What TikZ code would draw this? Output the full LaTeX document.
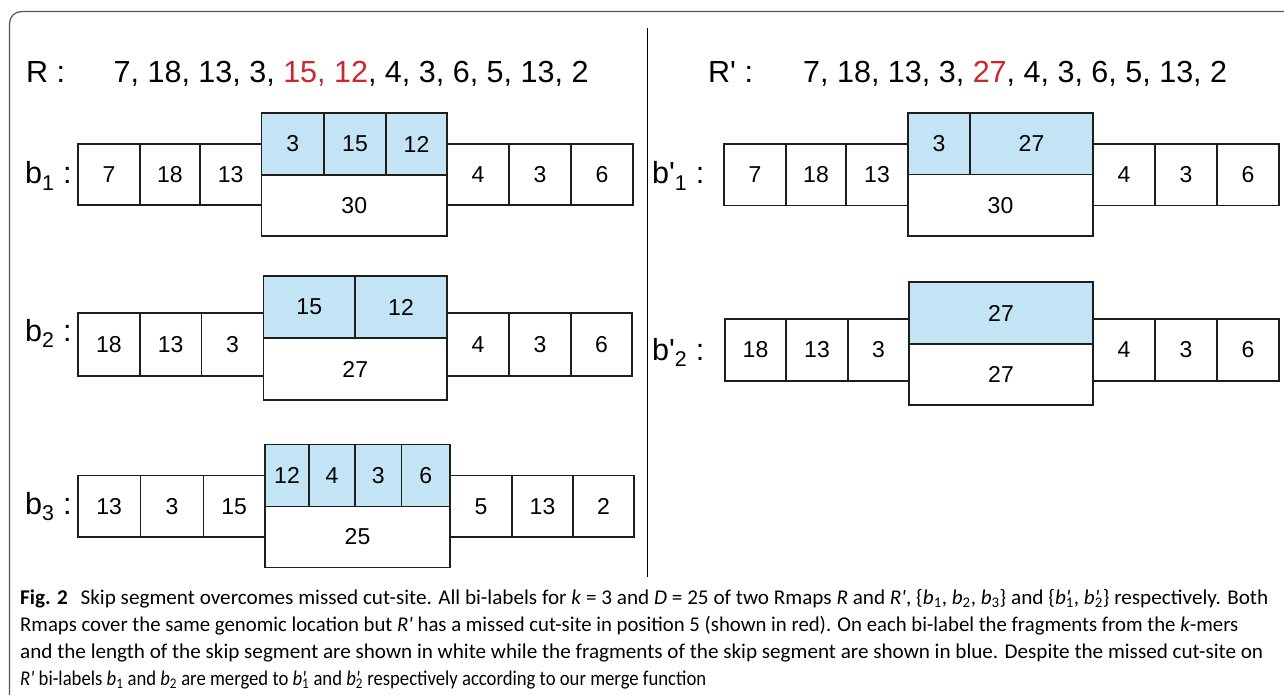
\documentclass[tikz,border=0pt]{standalone}
\usepackage{fontspec}
\usepackage{graphicx}
\setmainfont{Liberation Sans}
\newfontfamily\capfont{Carlito}
\definecolor{skyfill}{RGB}{194,228,245}
\definecolor{redc}{RGB}{205,38,48}
\definecolor{framecol}{RGB}{85,85,85}
\definecolor{linecol}{RGB}{30,30,30}
\newcommand{\bx}[7]{\node[#6, minimum width={(#4-#2)*1pt}, minimum height={(#5-#3)*1pt}] (#1) at ({(#2+#4)/2},{(#3+#5)/2}) {#7};}
\newcommand{\bi}[1]{\textit{b}\textsubscript{#1}}
\newcommand{\bpi}[1]{\textit{b}\rlap{\textit{\textquotesingle}}\textsubscript{#1}}
\newcommand{\rpr}{\textit{R\textquotesingle}}
\tikzset{
 cellw/.style={draw=linecol, fill=white, line width=1.3pt, inner sep=0pt, font=\fontsize{23}{27}\selectfont},
 cellb/.style={cellw, fill=skyfill},
 titletext/.style={anchor=base west, inner sep=0pt, font=\fontsize{30.5}{36}\selectfont},
 rowlabel/.style={anchor=base west, inner sep=0pt, font=\fontsize{30.5}{36}\selectfont},
 capline/.style={anchor=base west, inner sep=0pt, font=\capfont\fontsize{21}{25}\selectfont},
}
\begin{document}
\begin{tikzpicture}[x=1pt,y=-1pt]
\useasboundingbox (0,0) rectangle (1284,695);
\clip (0,0) rectangle (1284,695);
\fill[white] (0,0) rectangle (1284,695);
% frame
\coordinate (fbl) at (9.5,720);
\coordinate (ftl) at (9.5,11.5);
\coordinate (ftr) at (1310,11.5);
\draw[framecol, line width=1.2pt, rounded corners=12pt] (fbl) -- (ftl) -- (ftr);
% divider
\coordinate (dtop) at (647.5,28);
\coordinate (dbot) at (647.5,577);
\draw[black, line width=1.5pt] (dtop) -- (dbot);
% titles
\node[titletext] (tR) at (26,82.7) {R :};
\node[titletext] (sR) at (113.5,82.7) {7, 18, 13, 3, \textcolor{redc}{15, 12}, 4, 3, 6, 5, 13, 2};
\node[titletext] (tRp) at (708,82.7) {R\textquotesingle\ :};
\node[titletext] (sRp) at (803,82.7) {7, 18, 13, 3, \textcolor{redc}{27}, 4, 3, 6, 5, 13, 2};
% row labels
\node[rowlabel] (lb1) at (25,184) {b\textsubscript{1} :};
\node[rowlabel] (lb2) at (25,341) {b\textsubscript{2} :};
\node[rowlabel] (lb3) at (25,514) {b\textsubscript{3} :};
\node[rowlabel] (lbp1) at (652,184) {b\textquotesingle\textsubscript{1} :};
\node[rowlabel] (lbp2) at (652,360) {b\textquotesingle\textsubscript{2} :};
% b1
\bx{b1c1}{78}{144}{140}{205}{cellw}{7}
\bx{b1c2}{140}{144}{200}{205}{cellw}{18}
\bx{b1c3}{200}{144}{261.5}{205}{cellw}{13}
\bx{b1s1}{261.5}{113}{324}{175}{cellb}{3}
\bx{b1s2}{324}{113}{386}{175}{cellb}{15}
\bx{b1s3}{386}{113}{447}{175}{cellb}{12}
\bx{b1len}{261.5}{175}{447}{236}{cellw}{30}
\bx{b1c4}{447}{144}{509}{205}{cellw}{4}
\bx{b1c5}{509}{144}{571}{205}{cellw}{3}
\bx{b1c6}{571}{144}{633}{205}{cellw}{6}
% b2
\bx{b2c1}{78}{313}{140}{376}{cellw}{18}
\bx{b2c2}{140}{313}{201.5}{376}{cellw}{13}
\bx{b2c3}{201.5}{313}{263.5}{376}{cellw}{3}
\bx{b2s1}{263.5}{276}{355}{338}{cellb}{15}
\bx{b2s2}{355}{276}{447}{338}{cellb}{12}
\bx{b2len}{263.5}{338}{447}{400}{cellw}{27}
\bx{b2c4}{447}{313}{509}{376}{cellw}{4}
\bx{b2c5}{509}{313}{571}{376}{cellw}{3}
\bx{b2c6}{571}{313}{632}{376}{cellw}{6}
% b3
\bx{b3c1}{78}{475.5}{140.5}{537}{cellw}{13}
\bx{b3c2}{140.5}{475.5}{203.5}{537}{cellw}{3}
\bx{b3c3}{203.5}{475.5}{265}{537}{cellw}{15}
\bx{b3s1}{265}{444.5}{309}{506.3}{cellb}{12}
\bx{b3s2}{309}{444.5}{355}{506.3}{cellb}{4}
\bx{b3s3}{355}{444.5}{401.5}{506.3}{cellb}{3}
\bx{b3s4}{401.5}{444.5}{450}{506.3}{cellb}{6}
\bx{b3len}{265}{506.3}{450}{567.5}{cellw}{25}
\bx{b3c4}{450}{475.5}{512}{537}{cellw}{5}
\bx{b3c5}{512}{475.5}{573}{537}{cellw}{13}
\bx{b3c6}{573}{475.5}{634}{537}{cellw}{2}
% b'1
\bx{bp1c1}{724}{144}{786}{205.5}{cellw}{7}
\bx{bp1c2}{786}{144}{846}{205.5}{cellw}{18}
\bx{bp1c3}{846}{144}{908}{205.5}{cellw}{13}
\bx{bp1s1}{908}{113}{970}{174.5}{cellb}{3}
\bx{bp1s2}{970}{113}{1093}{174.5}{cellb}{27}
\bx{bp1len}{908}{174.5}{1093}{236}{cellw}{30}
\bx{bp1c4}{1093}{144}{1155}{205.5}{cellw}{4}
\bx{bp1c5}{1155}{144}{1217}{205.5}{cellw}{3}
\bx{bp1c6}{1217}{144}{1279}{205.5}{cellw}{6}
% b'2
\bx{bp2c1}{725}{319}{786}{381}{cellw}{18}
\bx{bp2c2}{786}{319}{848}{381}{cellw}{13}
\bx{bp2c3}{848}{319}{909}{381}{cellw}{3}
\bx{bp2s1}{909}{282}{1093}{344}{cellb}{27}
\bx{bp2len}{909}{344}{1093}{405}{cellw}{27}
\bx{bp2c4}{1093}{319}{1155}{381}{cellw}{4}
\bx{bp2c5}{1155}{319}{1217}{381}{cellw}{3}
\bx{bp2c6}{1217}{319}{1279}{381}{cellw}{6}
% caption
\node[capline] (cap1) at (20,604) {\resizebox{1248pt}{\height}{\textbf{Fig. 2}\hspace{0.6em}Skip segment overcomes missed cut-site. All bi-labels for \textit{k} = 3 and \textit{D} = 25 of two Rmaps \textit{R} and \rpr, \{\bi{1}, \bi{2}, \bi{3}\} and \{\bpi{1}, \bpi{2}\} respectively. Both}};
\node[capline] (cap2) at (20,631) {\resizebox{1218pt}{\height}{Rmaps cover the same genomic location but \rpr{} has a missed cut-site in position 5 (shown in red). On each bi-label the fragments from the \textit{k}-mers}};
\node[capline] (cap3) at (20,658) {\resizebox{1243pt}{\height}{and the length of the skip segment are shown in white while the fragments of the skip segment are shown in blue. Despite the missed cut-site on}};
\node[capline] (cap4) at (20,685) {\resizebox{686pt}{\height}{\rpr{} bi-labels \bi{1} and \bi{2} are merged to \bpi{1} and \bpi{2} respectively according to our merge function}};
\end{tikzpicture}
\end{document}
